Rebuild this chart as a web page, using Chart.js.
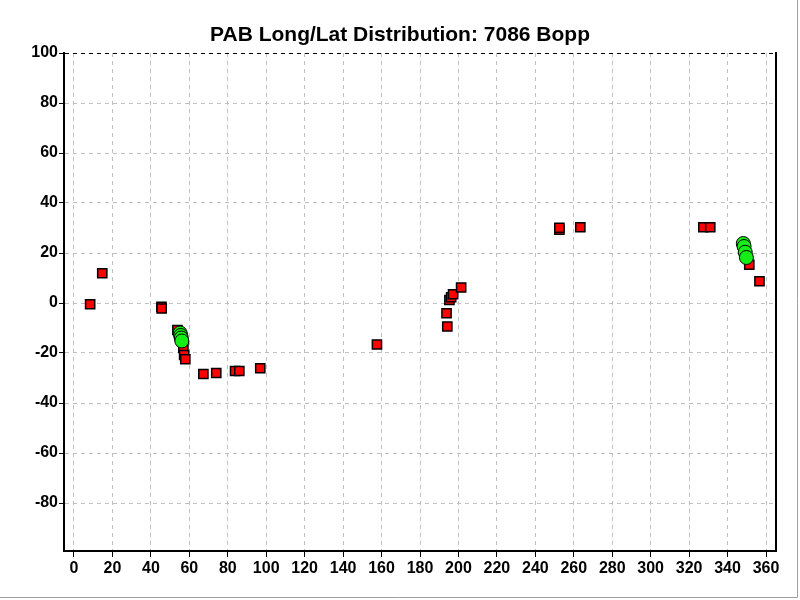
<!DOCTYPE html>
<html>
<head>
<meta charset="utf-8">
<script src="https://cdn.jsdelivr.net/npm/chart.js@4/dist/chart.umd.min.js"></script>
<style>
  html, body { margin: 0; padding: 0; background: #fff; }
  #wrap { width: 800px; height: 600px; }
</style>
</head>
<body>
<div id="wrap"><canvas id="chart" width="800" height="600"></canvas></div>
<script>
const chartTitle = "PAB Long/Lat Distribution: 7086 Bopp";

// red squares (longitude, latitude)
const squareLong = [8.4, 14.7, 45.5, 45.6, 53.8, 56.9, 57.3, 57.9, 67.3, 74.0, 83.8, 86.0, 96.9,
  157.6, 193.8, 194.2, 195.3, 196.2, 197.2, 201.4, 252.5, 252.5, 263.4, 327.4, 331.0, 351.3, 356.6];
const squareLat = [-0.5, 11.9, -1.5, -2.2, -10.8, -18.0, -20.8, -22.5, -28.4, -28.0, -27.2, -27.2, -26.1,
  -16.6, -4.1, -9.4, 1.2, 2.3, 3.5, 6.2, 29.3, 30.1, 30.3, 30.3, 30.3, 15.3, 8.7];

// green circles
const circleLong = [55.2, 55.5, 55.8, 56.1, 348.2, 348.6, 349.2, 349.8];
const circleLat = [-12.0, -13.0, -14.0, -15.2, 23.8, 22.6, 20.3, 18.2];

const xTicks = [0, 20, 40, 60, 80, 100, 120, 140, 160, 180, 200, 220, 240, 260, 280, 300, 320, 340, 360];
const yTicks = [-80, -60, -40, -20, 0, 20, 40, 60, 80, 100];

function toPoints(xs, ys) {
  return xs.map((x, i) => ({ x: x, y: ys[i] }));
}

// thin grey window edge, right and bottom
const windowEdge = {
  id: "windowEdge",
  afterDraw(chart) {
    const { ctx, width, height } = chart;
    ctx.save();
    ctx.strokeStyle = "#a0a0a0";
    ctx.lineWidth = 1;
    ctx.beginPath();
    ctx.moveTo(width - 2.5, 0);
    ctx.lineTo(width - 2.5, height - 2.5);
    ctx.lineTo(0, height - 2.5);
    ctx.stroke();
    ctx.restore();
  },
};

const tickFont = { family: "'Liberation Sans', Arial, sans-serif", size: 16, weight: "bold" };

new Chart(document.getElementById("chart"), {
  type: "scatter",
  data: {
    datasets: [
      {
        label: "circles",
        data: toPoints(circleLong, circleLat),
        pointStyle: "circle",
        pointRadius: 7,
        pointHoverRadius: 7,
        backgroundColor: "#14ee14",
        borderColor: "#000",
        borderWidth: 1,
        order: 0,
      },
      {
        label: "squares",
        data: toPoints(squareLong, squareLat),
        pointStyle: "rect",
        pointRadius: 6.5,
        pointHoverRadius: 6.5,
        backgroundColor: "#ff0000",
        borderColor: "#000",
        borderWidth: 1.5,
        order: 1,
      },
    ],
  },
  options: {
    responsive: false,
    animation: false,
    layout: { padding: 0 },
    plugins: {
      legend: { display: false },
      tooltip: { enabled: false },
      title: {
        display: true,
        text: chartTitle,
        color: "#000",
        font: { family: "'Liberation Sans', Arial, sans-serif", size: 21, weight: "bold" },
        padding: { top: 23, bottom: 4.8 },
      },
    },
    scales: {
      x: {
        type: "linear",
        min: -5.2,
        max: 365.2,
        afterBuildTicks: (scale) => {
          scale.ticks = xTicks.map((v) => ({ value: v }));
        },
        afterFit: (scale) => {
          scale.height = 49;
        },
        ticks: { color: "#000", font: tickFont, padding: 2, maxRotation: 0, autoSkip: false },
        grid: {
          color: "#c0c0c0",
          lineWidth: 1,
          tickLength: 6,
          tickColor: "#000",
          tickBorderDash: [],
        },
        border: { display: true, color: "#000", width: 2, dash: [4, 4] },
      },
      y: {
        type: "linear",
        min: -99.2,
        max: 100,
        afterBuildTicks: (scale) => {
          scale.ticks = yTicks.map((v) => ({ value: v }));
        },
        afterFit: (scale) => {
          scale.width = 64;
        },
        ticks: { color: "#000", font: tickFont, padding: 1 },
        grid: {
          color: (ctx) => (ctx.tick && ctx.tick.value === 100 ? "#000" : "#c0c0c0"),
          lineWidth: 1,
          tickLength: 5,
          tickColor: "#000",
          tickBorderDash: [],
        },
        border: { display: true, color: "#000", width: 2, dash: [4, 4] },
      },
      // right frame line
      yRight: {
        type: "linear",
        position: "right",
        min: -99.2,
        max: 100,
        afterFit: (scale) => {
          scale.width = 24;
        },
        ticks: { display: false },
        grid: { display: false },
        border: { display: true, color: "#000", width: 2 },
      },
    },
  },
  plugins: [windowEdge],
});
</script>
</body>
</html>
